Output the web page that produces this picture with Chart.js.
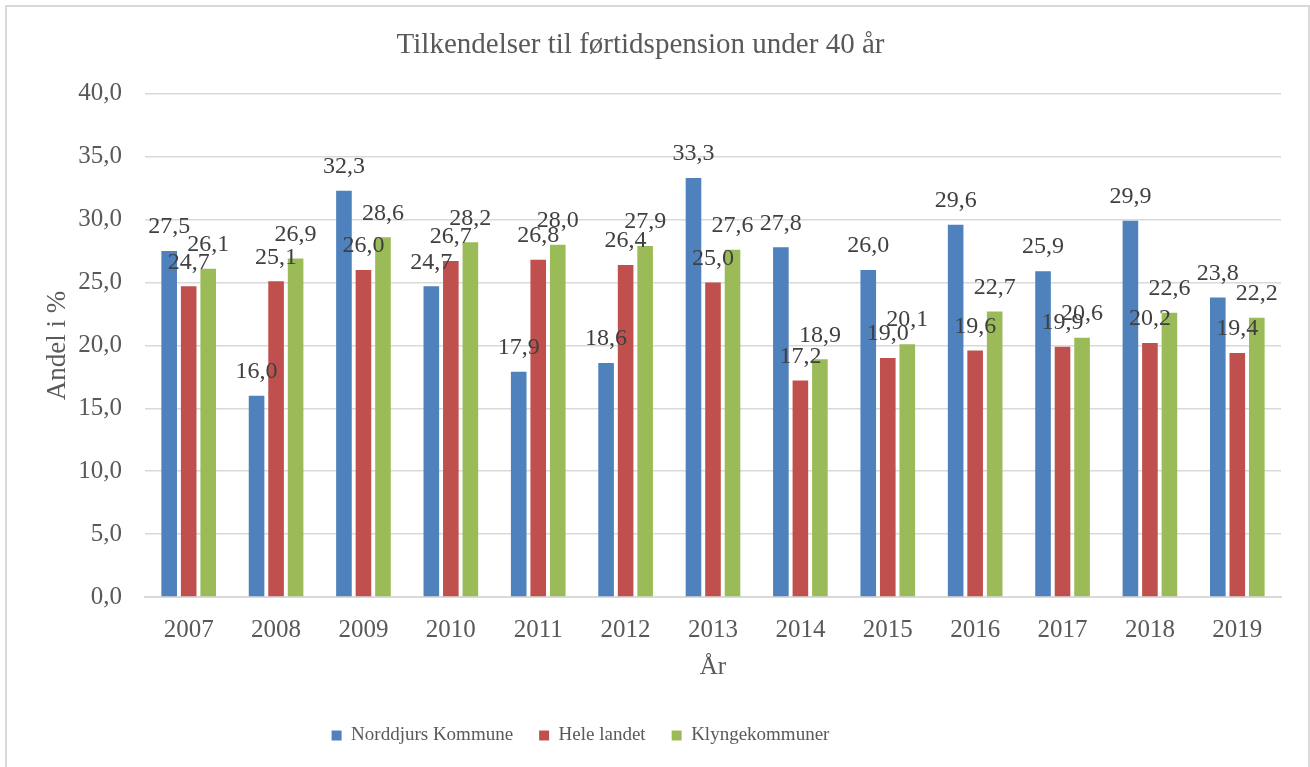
<!DOCTYPE html>
<html>
<head>
<meta charset="utf-8">
<script src="https://cdn.jsdelivr.net/npm/chart.js@4.4.1/dist/chart.umd.min.js"></script>
<style>
  html, body { margin: 0; padding: 0; background: #ffffff; }
  #wrap { position: relative; width: 1310px; height: 767px; }
</style>
</head>
<body>
<div id="wrap"><canvas id="c" width="1310" height="767"></canvas></div>
<script>
const years = ['2007','2008','2009','2010','2011','2012','2013','2014','2015','2016','2017','2018','2019'];
const norddjurs = [27.5, 16.0, 32.3, 24.7, 17.9, 18.6, 33.3, 27.8, 26.0, 29.6, 25.9, 29.9, 23.8];
const heleLandet = [24.7, 25.1, 26.0, 26.7, 26.8, 26.4, 25.0, 17.2, 19.0, 19.6, 19.9, 20.2, 19.4];
const klynge = [26.1, 26.9, 28.6, 28.2, 28.0, 27.9, 27.6, 18.9, 20.1, 22.7, 20.6, 22.6, 22.2];
const seriesNames = ['Norddjurs Kommune', 'Hele landet', 'Klyngekommuner'];
const titleText = 'Tilkendelser til førtidspension under 40 år';
const yTitle = 'Andel i %';
const xTitle = 'År';

const FONT = "'Liberation Serif', 'DejaVu Serif', serif";
const fmt = v => v.toFixed(1).replace('.', ',');

const frame = {
  id: 'frame',
  beforeDraw(chart) {
    const ctx = chart.ctx;
    ctx.save();
    ctx.fillStyle = '#ffffff';
    ctx.fillRect(0, 0, chart.width, chart.height);
    ctx.strokeStyle = '#d9d9d9';
    ctx.lineWidth = 2;
    ctx.strokeRect(6, 6, 1303, 780);
    ctx.restore();
  }
};

const shiftBoxes = {
  id: 'shiftBoxes',
  afterLayout(chart) {
    const lg = chart.legend;
    if (lg) { const dx = -60; lg.left += dx; lg.right += dx; }
  }
};

const barLabels = {
  id: 'barLabels',
  afterDatasetsDraw(chart) {
    const ctx = chart.ctx;
    ctx.save();
    ctx.font = '24px ' + FONT;
    ctx.fillStyle = '#404040';
    ctx.textAlign = 'center';
    ctx.textBaseline = 'middle';
    chart.data.datasets.forEach((ds, i) => {
      const meta = chart.getDatasetMeta(i);
      meta.data.forEach((bar, j) => {
        ctx.fillText(fmt(ds.data[j]), bar.x, bar.y - 24);
      });
    });
    ctx.restore();
  }
};

new Chart(document.getElementById('c'), {
  type: 'bar',
  data: {
    labels: years,
    datasets: [
      { label: seriesNames[0], data: norddjurs, backgroundColor: '#4f81bd' },
      { label: seriesNames[1], data: heleLandet, backgroundColor: '#c0504d' },
      { label: seriesNames[2], data: klynge, backgroundColor: '#9bbb59' }
    ]
  },
  options: {
    responsive: false,
    animation: false,
    devicePixelRatio: 1,
    layout: { padding: { left: 0, right: 29, top: 0, bottom: 12 } },
    datasets: { bar: { barPercentage: 0.8, categoryPercentage: 0.67 } },
    plugins: {
      title: {
        display: true,
        text: titleText,
        color: '#595959',
        font: { family: FONT, size: 29, weight: 'normal' },
        padding: { top: 28, bottom: 31 }
      },
      legend: {
        position: 'bottom',
        labels: {
          color: '#595959',
          font: { family: FONT, size: 19 },
          boxWidth: 10, boxHeight: 10,
          padding: 26
        }
      },
      tooltip: { enabled: false }
    },
    scales: {
      x: {
        grid: { display: false },
        border: { display: true, color: '#d9d9d9', width: 2 },
        ticks: { color: '#595959', font: { family: FONT, size: 25 }, padding: 10, maxRotation: 0 },
        title: { display: true, text: xTitle, color: '#595959', font: { family: FONT, size: 25 }, padding: { top: 0, bottom: 18 } },
        afterFit(s) { s.height = 103; }
      },
      y: {
        min: 0, max: 40,
        ticks: { stepSize: 5, color: '#595959', font: { family: FONT, size: 25 }, padding: 23, callback: v => fmt(v) },
        grid: { color: '#d9d9d9', lineWidth: 1.5, drawTicks: false },
        border: { display: false },
        title: { display: true, text: yTitle, color: '#595959', font: { family: FONT, size: 27 }, padding: { top: 42, bottom: 0 } },
        afterFit(s) { s.width = 145; }
      }
    }
  },
  plugins: [frame, shiftBoxes, barLabels]
});
</script>
</body>
</html>
